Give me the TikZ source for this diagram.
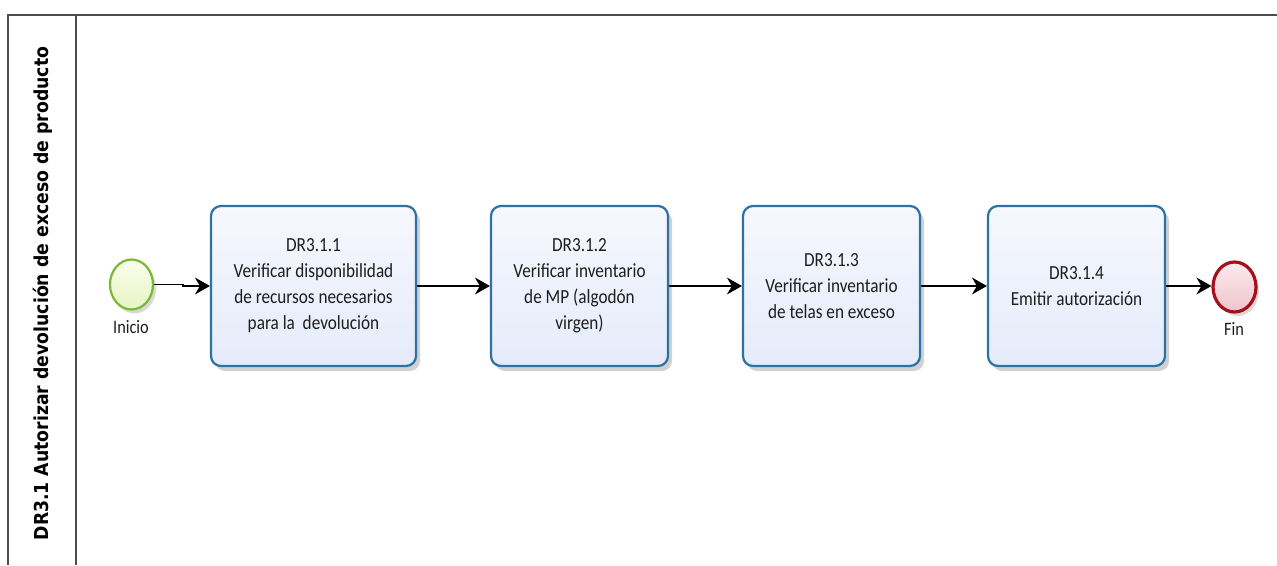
\documentclass[tikz,border=0pt]{standalone}
\usepackage{fontspec}
\setmainfont{Carlito}
\newfontfamily\taskfont[FakeStretch=0.86]{Carlito}
\newfontfamily\lanefont[FakeStretch=0.9]{DejaVu Sans}
\usetikzlibrary{shapes.geometric,arrows.meta,shadows}
\definecolor{taskblue}{RGB}{44,114,162}
\definecolor{taskfillA}{RGB}{246,248,254}
\definecolor{taskfillB}{RGB}{229,235,250}
\definecolor{startgreen}{RGB}{120,186,50}
\definecolor{startfillA}{RGB}{250,253,236}
\definecolor{startfillB}{RGB}{232,245,196}
\definecolor{endred}{RGB}{166,16,28}
\definecolor{endfillA}{RGB}{251,234,237}
\definecolor{endfillB}{RGB}{239,196,203}
\definecolor{poolgray}{RGB}{77,77,77}
\definecolor{txt}{RGB}{30,30,30}
\tikzset{
  x=1pt, y=1pt,
  taskbox/.style={rectangle, rounded corners=10pt, draw=taskblue, line width=2.2pt,
    top color=taskfillA, bottom color=taskfillB, align=center, text=txt,
    font=\taskfont\fontsize{20}{26}\selectfont, minimum height=160pt, inner sep=0pt,
    drop shadow={shadow xshift=4pt, shadow yshift=-5pt, opacity=0.18, fill=black}},
  startev/.style={ellipse, draw=startgreen, line width=2.2pt, top color=startfillA,
    bottom color=startfillB, minimum width=43pt, minimum height=50pt, inner sep=0pt,
    drop shadow={shadow xshift=3pt, shadow yshift=-4pt, opacity=0.15, fill=black}},
  endev/.style={ellipse, draw=endred, line width=3.2pt, top color=endfillA,
    bottom color=endfillB, minimum width=43pt, minimum height=50pt, inner sep=0pt,
    drop shadow={shadow xshift=3pt, shadow yshift=-4pt, opacity=0.15, fill=black}},
  evlabel/.style={text=txt, font=\taskfont\fontsize{19}{22}\selectfont, inner sep=0pt},
  flow/.style={draw=black, line width=1.6pt, -{Stealth[length=15pt,width=17pt,inset=5pt]}},
  poolline/.style={draw=poolgray, line width=2pt},
}
\begin{document}
\begin{tikzpicture}
\useasboundingbox (0,0) rectangle (1277,565);
% pool and lane
\coordinate (pTL) at (8,550);
\coordinate (pTR) at (1277,550);
\coordinate (pBL) at (8,0);
\coordinate (dT) at (76,550);
\coordinate (dB) at (76,0);
\draw[poolline] (pBL) -- (pTL) -- (pTR);
\draw[poolline] (dT) -- (dB);
\node[rotate=90, text=black, inner sep=0pt, font=\lanefont\bfseries\fontsize{19.2}{22}\selectfont] (lane) at (43,271.5)
  {DR3.1 Autorizar devolución de exceso de producto};
% events
\node[startev] (s) at (131.5,280.5) {};
\node[evlabel] (sl) at (131,238) {Inicio};
\node[endev] (e) at (1234.5,278) {};
\node[evlabel] (el) at (1234,236) {Fin};
% tasks
\node[taskbox, minimum width=205pt] (t1) at (313.5,279)
  {DR3.1.1\\Verificar disponibilidad\\de recursos necesarios\\para la\ \ devolución};
\node[taskbox, minimum width=177pt] (t2) at (579.5,279)
  {DR3.1.2\\Verificar inventario\\de MP (algodón\\virgen)};
\node[taskbox, minimum width=177pt] (t3) at (831.5,279)
  {DR3.1.3\\Verificar inventario\\de telas en exceso};
\node[taskbox, minimum width=177pt] (t4) at (1076.5,279)
  {DR3.1.4\\Emitir autorización};
% flows
\draw[flow] (s.east) -- ++(29,0) |- (t1.west);
\draw[flow] (t1) -- (t2);
\draw[flow] (t2) -- (t3);
\draw[flow] (t3) -- (t4);
\draw[flow] (t4.east) -- (t4.east -| e.west);
\end{tikzpicture}
\end{document}
